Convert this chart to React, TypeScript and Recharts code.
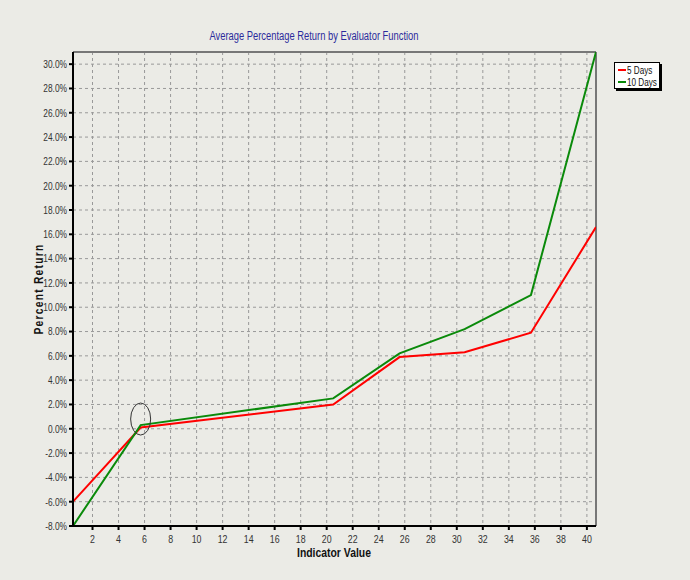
import React from "react";
import {
  LineChart,
  Line,
  XAxis,
  YAxis,
  CartesianGrid,
  ReferenceLine,
  ReferenceDot,
} from "recharts";

// indicator values where the curves bend
const indicator = [0.5, 5.7, 20.5, 25.6, 30.6, 35.7, 40.7];
const fiveDays = [-6.0, 0.1, 2.0, 5.9, 6.3, 7.9, 16.6];
const tenDays = [-8.0, 0.3, 2.5, 6.2, 8.2, 11.0, 31.0];

const xTicks = [2, 4, 6, 8, 10, 12, 14, 16, 18, 20, 22, 24, 26, 28, 30, 32, 34, 36, 38, 40];
const xMinorTicks = [1, 2, 3, 4, 5, 6, 7, 8, 9, 10, 11, 12, 13, 14, 15, 16, 17, 18, 19, 20, 21, 22, 23, 24, 25, 26, 27, 28, 29, 30, 31, 32, 33, 34, 35, 36, 37, 38, 39, 40];
const yTicks = [-8, -6, -4, -2, 0, 2, 4, 6, 8, 10, 12, 14, 16, 18, 20, 22, 24, 26, 28, 30];

const data = indicator.map((x, i) => ({ x, d5: fiveDays[i], d10: tenDays[i] }));

const font = "'Liberation Sans', Arial, sans-serif";
const bg = "#ebebe6";
const narrow = 0.8;

const Ellipse = (props: any) => (
  <ellipse cx={props.cx} cy={props.cy} rx={10} ry={16} fill="none" stroke="#333" strokeWidth={1} />
);

const XTick = (props: any) => (
  <text
    transform={`translate(${props.x},${props.y}) scale(${narrow},1)`}
    textAnchor="middle"
    dy="0.8em"
    fontSize={11}
    fill="#333"
    fontFamily={font}
  >
    {props.payload.value}
  </text>
);

const YTick = (props: any) => (
  <text
    transform={`translate(${props.x},${props.y}) scale(0.76,1)`}
    textAnchor="end"
    dy="0.35em"
    fontSize={11}
    fill="#333"
    fontFamily={font}
  >
    {`${props.payload.value.toFixed(1)}%`}
  </text>
);

const marker = (color: string) => ({
  display: "inline-block",
  flexShrink: 0,
  width: 8,
  height: 2,
  background: color,
  marginRight: 1,
});

const squeeze = { display: "inline-block", transform: "scaleX(0.74)", transformOrigin: "left center" };

export default function App() {
  return (
    <div style={{ position: "absolute", left: 0, top: 0, width: 690, height: 580, background: bg, fontFamily: font }}>
      <div style={{ position: "absolute", top: 29, left: 314, transform: `translateX(-50%) scaleX(0.78)`, fontSize: 12, color: "#2b2b9c", whiteSpace: "nowrap" }}>
        Average Percentage Return by Evaluator Function
      </div>

      <LineChart width={690} height={580} data={data} margin={{ top: 52, right: 94, bottom: 23, left: 13 }}>
        <CartesianGrid stroke="#999" strokeDasharray="3 3" />
        <XAxis
          dataKey="x"
          type="number"
          domain={[0.5, 40.7]}
          ticks={xTicks}
          interval={0}
          stroke="#000"
          strokeWidth={2}
          tickSize={4}
          tickMargin={4}
          tick={XTick}
          allowDataOverflow
        />
        <XAxis
          xAxisId="minor"
          dataKey="x"
          type="number"
          domain={[0.5, 40.7]}
          ticks={xMinorTicks}
          interval={0}
          axisLine={false}
          tickSize={2}
          tick={false}
          stroke="#000"
          height={1}
          allowDataOverflow
        />
        <YAxis
          type="number"
          domain={[-8, 31]}
          ticks={yTicks}
          interval={0}
          width={60}
          stroke="#000"
          strokeWidth={2}
          tickSize={4}
          tickMargin={2}
          tick={YTick}
          allowDataOverflow
        />
        <ReferenceLine y={31} stroke="#777" strokeWidth={2} />
        <ReferenceLine x={40.7} stroke="#777" strokeWidth={2} />
        <Line dataKey="d5" stroke="#ff0000" strokeWidth={2} dot={false} isAnimationActive={false} />
        <Line dataKey="d10" stroke="#0a8a0a" strokeWidth={2} dot={false} isAnimationActive={false} />
        <ReferenceDot x={5.7} y={0.8} shape={Ellipse} />
      </LineChart>

      <div
        style={{
          position: "absolute",
          left: 39,
          top: 289,
          transform: `translate(-50%, -50%) rotate(-90deg) scaleX(0.85)`,
          fontSize: 12,
          fontWeight: "bold",
          letterSpacing: 1.5,
          color: "#111",
          whiteSpace: "nowrap",
        }}
      >
        Percent Return
      </div>
      <div style={{ position: "absolute", left: 334, top: 545, transform: `translateX(-50%) scaleX(${narrow})`, fontSize: 13, fontWeight: "bold", color: "#111", whiteSpace: "nowrap" }}>
        Indicator Value
      </div>

      <div
        style={{
          position: "absolute",
          left: 614,
          top: 62,
          width: 46,
          height: 27,
          background: "#fff",
          border: "1px solid #000",
          boxShadow: "2px 2px 0 #000",
          fontSize: 11,
          color: "#111",
          lineHeight: "12px",
          padding: "1px 0 0 3px",
          boxSizing: "border-box",
          whiteSpace: "nowrap",
          overflow: "hidden",
        }}
      >
        <div style={{ display: "flex", alignItems: "center" }}>
          <span style={marker("#ff0000")} />
          <span style={squeeze}>5 Days</span>
        </div>
        <div style={{ display: "flex", alignItems: "center" }}>
          <span style={marker("#0a8a0a")} />
          <span style={squeeze}>10 Days</span>
        </div>
      </div>
    </div>
  );
}
